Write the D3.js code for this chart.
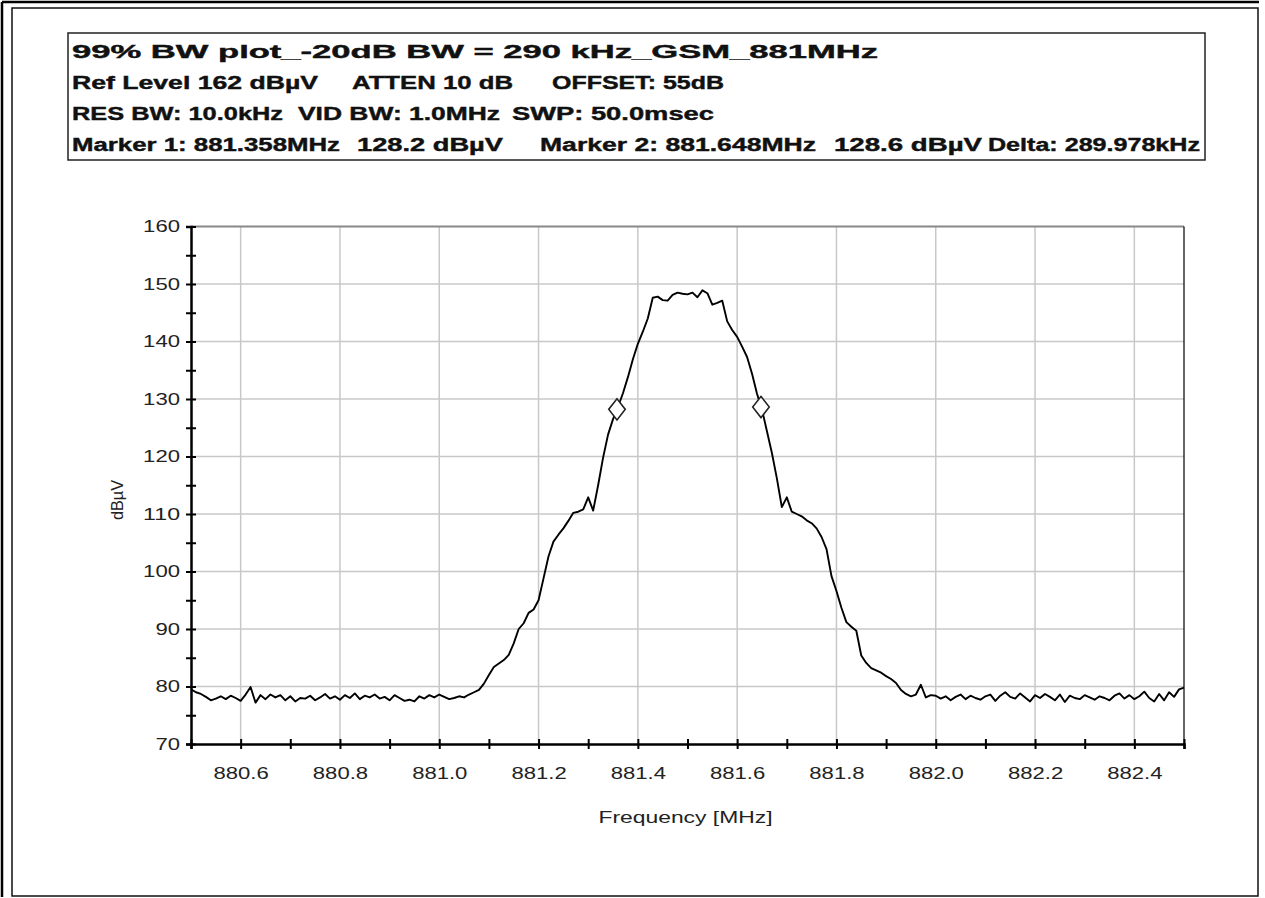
<!doctype html>
<html>
<head>
<meta charset="utf-8">
<title>99% BW plot - GSM 881MHz</title>
<style>
  body { margin: 0; background: #fff; }
  svg text { font-family: "Liberation Sans", Arial, Helvetica, sans-serif; }
</style>
<script src="https://d3js.org/d3.v7.min.js"></script>
</head>
<body>
<div id="plot"></div>
<script>
// sweep settings
const freqStart = 880.5, freqStep = 0.01;

// trace levels in dBuV, one per sweep step (880.50 .. 882.50 MHz)
const levels = [
  79.5, 79.0, 78.7, 78.2, 77.6, 77.9, 78.3, 77.8, 78.4, 78.0,
  77.5, 78.6, 79.9, 77.2, 78.5, 77.8, 78.6, 78.1, 78.5, 77.6,
  78.3, 77.4, 78.0, 77.9, 78.4, 77.6, 78.1, 78.7, 77.9, 78.3,
  77.7, 78.5, 78.0, 78.8, 77.8, 78.4, 78.1, 78.6, 77.9, 78.2,
  77.6, 78.5, 78.0, 77.5, 77.7, 77.4, 78.3, 77.9, 78.5, 78.1,
  78.6, 78.2, 77.8, 78.0, 78.3, 78.1, 78.6, 79.0, 79.4, 80.5,
  82.0, 83.4, 84.0, 84.6, 85.5, 87.5, 90.0, 91.0, 92.8, 93.4,
  95.0, 98.8, 102.6, 105.2, 106.4, 107.5, 108.8, 110.2, 110.4, 110.8,
  112.9, 110.6, 115.0, 119.8, 123.8, 126.5, 128.6, 131.0, 133.8, 136.9,
  139.6, 141.7, 144.0, 147.6, 147.8, 147.2, 147.1, 148.1, 148.5, 148.3,
  148.2, 148.5, 147.7, 148.9, 148.4, 146.4, 146.7, 147.1, 143.5, 142.0,
  140.8, 139.1, 137.3, 134.4, 130.9, 128.2, 124.4, 120.6, 116.2, 111.2,
  112.9, 110.4, 110.0, 109.6, 108.9, 108.4, 107.5, 106.0, 103.9, 99.2,
  96.6, 93.7, 91.2, 90.4, 89.7, 85.4, 84.1, 83.2, 82.8, 82.4,
  81.8, 81.3, 80.6, 79.4, 78.7, 78.3, 78.6, 80.3, 78.1, 78.5,
  78.4, 77.9, 78.3, 77.6, 78.2, 78.6, 77.8, 78.4, 78.0, 77.7,
  78.3, 78.6, 77.5, 78.4, 79.0, 78.2, 77.9, 78.8, 78.1, 77.4,
  78.5, 78.0, 78.7, 78.2, 77.6, 78.6, 77.3, 78.4, 78.0, 77.8,
  78.5, 78.1, 77.7, 78.3, 78.0, 77.6, 78.4, 78.8, 77.9, 78.5,
  77.8, 78.3, 79.1, 78.0, 77.4, 78.7, 77.6, 79.0, 78.2, 79.5,
  79.8
];

// markers
const markerFreq = [881.358, 881.648];
const markerLevel = [128.2, 128.6];

// axis ticks
const yTicks = [70, 80, 90, 100, 110, 120, 130, 140, 150, 160];
const yMinor = [75, 85, 95, 105, 115, 125, 135, 145, 155];
const xTicks = [880.6, 880.8, 881.0, 881.2, 881.4, 881.6, 881.8, 882.0, 882.2, 882.4];
const xMinor = [880.5, 880.7, 880.9, 881.1, 881.3, 881.5, 881.7, 881.9, 882.1, 882.3, 882.5];

// header text, one array of segments per line
const header1 = ["99% BW plot_-20dB BW = 290 kHz_GSM_881MHz"];
const header2 = ["Ref Level 162 dBµV", "ATTEN 10 dB", "OFFSET: 55dB"];
const header3 = ["RES BW: 10.0kHz", "VID BW: 1.0MHz", "SWP: 50.0msec"];
const header4 = ["Marker 1: 881.358MHz", "128.2 dBµV", "Marker 2: 881.648MHz", "128.6 dBµV", "Delta: 289.978kHz"];

const labelX = "Frequency [MHz]";
const labelY = "dBµV";

// layout
const W = 1265, H = 898;
const plot = {left: 191, right: 1184, top: 226.5, bottom: 744};
// [x start, x end] of each header segment, matching the header arrays
const headerLayout = [
  [[72, 878]],
  [[72, 318], [352, 513], [552, 724]],
  [[72, 283], [298, 500], [512, 714]],
  [[72, 340], [357, 503], [540, 816], [834, 982], [988, 1200]]
];
const headerBase = [58, 89, 120, 151];

const svg = d3.select("#plot").append("svg")
  .attr("width", W).attr("height", H);

svg.append("rect").attr("width", W).attr("height", H).attr("fill", "#fff");

// page frame
svg.append("line").attr("x1", 2).attr("x2", 1259).attr("y1", 2).attr("y2", 2)
  .attr("stroke", "#000").attr("stroke-width", 2.5);
svg.append("line").attr("x1", 2).attr("x2", 2).attr("y1", 2).attr("y2", 897)
  .attr("stroke", "#000").attr("stroke-width", 2.5);
svg.append("rect").attr("x", 12).attr("y", 8).attr("width", 1246).attr("height", 888)
  .attr("fill", "none").attr("stroke", "#111").attr("stroke-width", 1.5);

// header box
svg.append("rect").attr("x", 68).attr("y", 33).attr("width", 1137).attr("height", 127)
  .attr("fill", "none").attr("stroke", "#222").attr("stroke-width", 1.5);

[header1, header2, header3, header4].forEach(function(line, i) {
  line.forEach(function(seg, j) {
    const pos = headerLayout[i][j];
    svg.append("text")
      .attr("x", pos[0]).attr("y", headerBase[i])
      .attr("textLength", pos[1] - pos[0])
      .attr("lengthAdjust", "spacingAndGlyphs")
      .style("font-size", "18px").style("font-weight", "bold")
      .attr("fill", "#111")
      .attr("stroke", "#111").attr("stroke-width", 0.4)
      .text(seg);
  });
});

// scales
const x = d3.scaleLinear().domain([880.5, 882.5]).range([plot.left, plot.right]);
const y = d3.scaleLinear().domain([70, 160]).range([plot.bottom, plot.top]);

// grid
const grid = svg.append("g");
grid.selectAll("line.gx").data(xTicks).enter().append("line")
  .attr("x1", d => x(d)).attr("x2", d => x(d))
  .attr("y1", plot.top).attr("y2", plot.bottom)
  .attr("stroke", "#c8c8c8").attr("stroke-width", 1.5);
grid.selectAll("line.gy").data(yTicks.slice(1, -1)).enter().append("line")
  .attr("y1", d => y(d)).attr("y2", d => y(d))
  .attr("x1", plot.left).attr("x2", plot.right)
  .attr("stroke", "#c8c8c8").attr("stroke-width", 1.5);

// top and right border of the plot
svg.append("line").attr("x1", plot.left).attr("x2", plot.right)
  .attr("y1", plot.top).attr("y2", plot.top)
  .attr("stroke", "#888").attr("stroke-width", 2);
svg.append("line").attr("x1", plot.right).attr("x2", plot.right)
  .attr("y1", plot.top).attr("y2", plot.bottom)
  .attr("stroke", "#000").attr("stroke-width", 1.2);

// label width: wide bitmap-like font, so stretch the digits
function labelLength(s) {
  let n = 0;
  for (const c of s) n += (c === "." ? 6 : 12.3);
  return n;
}

// Y axis
const gy = svg.append("g").attr("transform", `translate(${plot.left},0)`)
  .call(d3.axisLeft(y).tickValues(yTicks.concat(yMinor)).tickSize(5).tickPadding(6)
    .tickFormat(d => yTicks.includes(d) ? d3.format("d")(d) : ""));
gy.select(".domain").attr("stroke", "#000").attr("stroke-width", 2.5);
gy.selectAll(".tick line").attr("x1", 5).attr("stroke", "#000").attr("stroke-width", 2);
gy.selectAll(".tick text")
  .attr("x", -11)
  .style("font-size", "17px").attr("fill", "#222")
  .each(function() {
    const t = d3.select(this).text();
    if (t) d3.select(this).attr("textLength", labelLength(t)).attr("lengthAdjust", "spacingAndGlyphs");
  });

// X axis
const gx = svg.append("g").attr("transform", `translate(0,${plot.bottom})`)
  .call(d3.axisBottom(x).tickValues(xTicks.concat(xMinor)).tickSize(5).tickPadding(6)
    .tickFormat(d => xTicks.some(v => Math.abs(v - d) < 1e-9) ? d3.format(".1f")(d) : ""));
gx.select(".domain").attr("stroke", "#000").attr("stroke-width", 2.5);
gx.selectAll(".tick line").attr("y1", -5).attr("stroke", "#000").attr("stroke-width", 2);
gx.selectAll(".tick text")
  .attr("y", 23)
  .style("font-size", "17px").attr("fill", "#222")
  .each(function() {
    const t = d3.select(this).text();
    if (t) d3.select(this).attr("textLength", labelLength(t)).attr("lengthAdjust", "spacingAndGlyphs");
  });

// axis titles
svg.append("text")
  .attr("x", (plot.left + plot.right) / 2 - 2).attr("y", 823)
  .attr("text-anchor", "middle")
  .attr("textLength", 174).attr("lengthAdjust", "spacingAndGlyphs")
  .style("font-size", "17px").attr("fill", "#222")
  .text(labelX);

svg.append("text")
  .attr("transform", "translate(123,500) rotate(-90)")
  .attr("text-anchor", "middle")
  .attr("textLength", 40).attr("lengthAdjust", "spacingAndGlyphs")
  .style("font-size", "16px").attr("fill", "#222")
  .text(labelY);

// trace
const trace = levels.map((v, i) => ({f: freqStart + i * freqStep, v: v}));
svg.append("path")
  .datum(trace)
  .attr("fill", "none")
  .attr("stroke", "#000")
  .attr("stroke-width", 1.9)
  .attr("stroke-linejoin", "round")
  .attr("d", d3.line().x(d => x(d.f)).y(d => y(d.v)));

// markers (diamonds)
const diamond = d3.symbol().type(d3.symbolDiamond).size(130);
svg.selectAll("path.marker")
  .data(markerFreq.map((f, i) => ({f: f, v: markerLevel[i]})))
  .enter().append("path")
  .attr("class", "marker")
  .attr("transform", d => `translate(${x(d.f)},${y(d.v)}) scale(1.35,1)`)
  .attr("d", diamond)
  .attr("fill", "#fff")
  .attr("stroke", "#222")
  .attr("stroke-width", 1.3);
</script>
</body>
</html>
